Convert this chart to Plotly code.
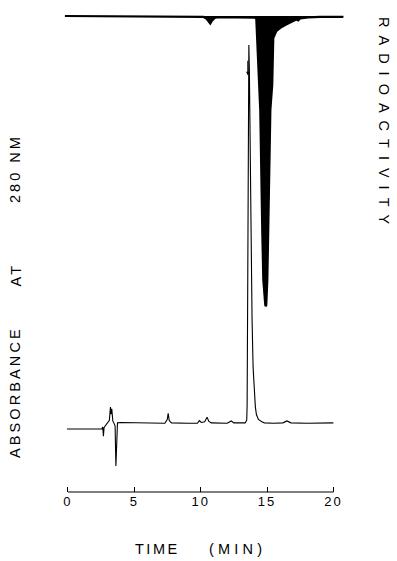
import plotly.graph_objects as go

# UV absorbance trace (relative units, main peak = 100)
time_uv = [-0.08, 2.55, 2.62, 2.67, 2.72, 2.93, 3.12, 3.20, 3.25, 3.30, 3.38, 3.45, 3.55, 3.61, 3.67, 3.73,
           4.0, 5.0, 6.0, 7.3, 7.48, 7.55, 7.63, 7.8, 9.0, 9.75, 9.9, 10.05, 10.3, 10.48, 10.62, 10.8,
           12.0, 12.3, 12.5, 13.35, 13.47, 13.5, 13.55, 13.6, 13.63, 13.67, 13.72, 13.81, 13.87, 13.95,
           14.05, 14.12, 14.2, 14.35, 14.6, 14.8, 15.5, 16.2, 16.5, 16.8, 18.0, 20.0]
absorbance = [-1.3, -1.3, -0.8, -3.2, -0.9, 0.2, 1.0, 4.5, 2.6, 4.0, 0.8, 0.3, -0.5, -11.1, -1.0, 0.3,
              0.4, 0.3, 0.3, 0.2, 1.2, 2.8, 0.9, 0.3, 0.2, 0.2, 0.9, 0.4, 0.6, 1.8, 0.7, 0.3,
              0.2, 0.8, 0.3, 0.3, 1.0, 5.0, 40.0, 90.0, 100.0, 93.0, 72.0, 46.0, 28.0, 15.0,
              8.0, 4.5, 2.5, 1.2, 0.6, 0.3, 0.2, 0.3, 0.8, 0.3, 0.2, 0.3]

# Radioactivity trace (relative units, main peak = 100; drawn downward)
time_rad = [-0.23, 2.0, 5.0, 8.0, 9.5, 10.2, 10.45, 10.65, 10.72, 10.85, 11.05, 11.3, 12.5, 13.5,
            14.1, 14.19, 14.34, 14.49, 14.64, 14.72, 14.87, 14.9, 14.94, 15.02, 15.09, 15.25, 15.39,
            15.42, 15.47, 15.7, 16.0, 16.4, 16.75, 17.2, 17.35, 17.5, 18.1, 19.0, 20.75]
radioactivity = [0.0, 0.1, 0.0, 0.2, 0.3, 0.3, 1.0, 2.4, 2.6, 1.6, 0.7, 0.4, 0.4, 0.5,
                 0.6, 0.9, 16.2, 32.4, 73.8, 91.0, 99.7, 100.0, 99.7, 91.0, 73.8, 32.4, 23.8,
                 13.4, 7.6, 5.2, 4.1, 3.0, 2.2, 1.2, 1.5, 0.8, 0.5, 0.3, 0.3]

tick_vals = [0, 5, 10, 15, 20]

# marker arrow drawn on the main UV peak
peak_mark_time = 13.6
peak_mark_value = 92.0

W, H = 397, 561
L, R, T, B = 64, 344, 10, 492
FONT = "Liberation Sans, Arial, sans-serif"


def px(x):
    return (x - L) / (R - L)


def py(y):
    return (B - y) / (B - T)


def spaced(s, ls):
    return '<span style="letter-spacing:%gpx">%s</span>' % (ls, s)


fig = go.Figure()
fig.add_trace(go.Scatter(x=time_rad, y=radioactivity, yaxis="y2", mode="lines",
                         line=dict(color="black", width=2.2),
                         fill="tozeroy", fillcolor="black", hoverinfo="skip"))
fig.add_trace(go.Scatter(x=time_uv, y=absorbance, mode="lines",
                         line=dict(color="black", width=1.1), hoverinfo="skip"))

annotations = [
    dict(text=spaced("ABSORBANCE", 3.1), x=px(15), y=py(392), textangle=-90),
    dict(text=spaced("AT", 3.1), x=px(15), y=py(274.5), textangle=-90),
    dict(text=spaced("280 NM", 3.0), x=px(15), y=py(169), textangle=-90),
    dict(text=spaced("RADIOACTIVITY", 8), x=px(384), y=py(124), textangle=90),
    dict(text=spaced("TIME", 2.5), x=px(157.5), y=py(549)),
    dict(text=spaced("(MIN)", 4.2), x=px(237), y=py(549)),
]
for a in annotations:
    a.update(xref="paper", yref="paper", showarrow=False, xanchor="center", yanchor="middle",
             font=dict(family=FONT, size=14.5, color="black"))

annotations.append(dict(x=peak_mark_time - 0.05, y=peak_mark_value, xref="x", yref="y", text="",
                        showarrow=True, arrowhead=2, arrowsize=0.7, arrowwidth=1,
                        arrowcolor="black", ax=0, ay=-16))

fig.update_layout(
    width=W, height=H,
    margin=dict(l=L, r=W - R, t=T, b=H - B, pad=0),
    paper_bgcolor="white", plot_bgcolor="white",
    showlegend=False,
    xaxis=dict(range=[-0.3, 20.8], showgrid=False, zeroline=False, showline=False,
               ticks="inside", ticklen=5, tickwidth=1, tickcolor="black",
               tickvals=tick_vals, ticktext=[spaced(str(v), 2) for v in tick_vals],
               tickfont=dict(family=FONT, size=13, color="black")),
    yaxis=dict(range=[-17.94, 109.23], visible=False),
    yaxis2=dict(range=[164.1, -2.07], overlaying="y", visible=False),
    shapes=[dict(type="line", xref="x", yref="paper", x0=0, x1=20, y0=0, y1=0,
                 line=dict(color="black", width=1.2))],
    annotations=annotations,
)

fig.write_html("out.html", config={"displayModeBar": False},
               post_script="document.body.style.margin='0';document.body.style.overflow='hidden';")
